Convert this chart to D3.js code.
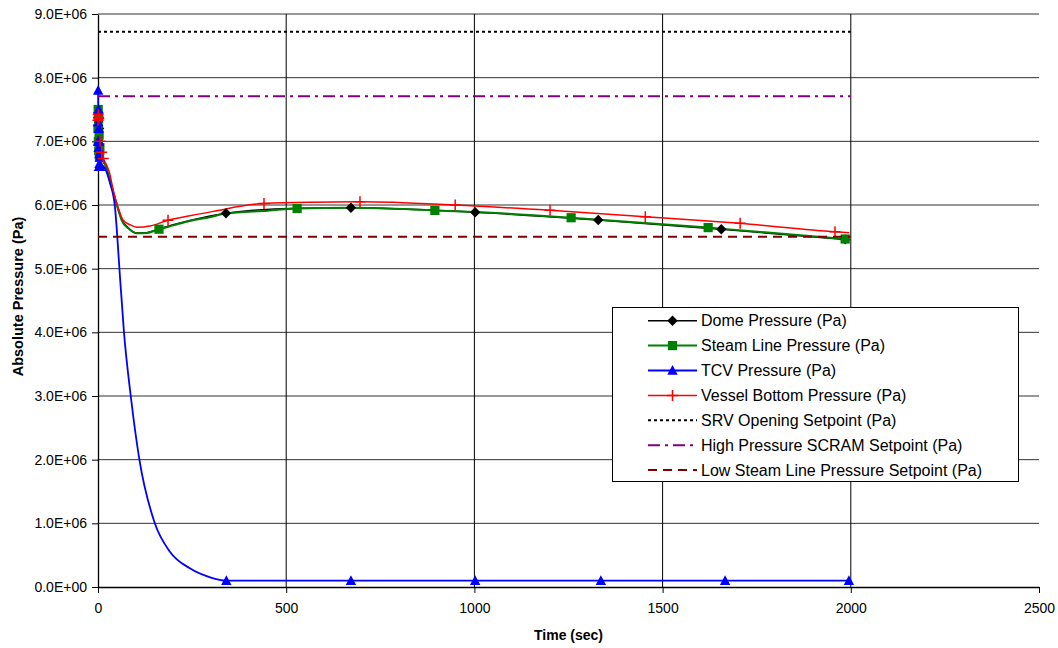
<!DOCTYPE html>
<html><head><meta charset="utf-8">
<script src="https://cdn.jsdelivr.net/npm/d3@7"></script>
<style>
html,body{margin:0;padding:0;background:#fff;}
svg{display:block;font-family:"Liberation Sans",Arial,sans-serif;}
</style></head>
<body>
<svg id="chart" width="1058" height="648"></svg>
<script>
// ---------------- DATA ----------------
const timeTicks = [0, 500, 1000, 1500, 2000, 2500];
const pressureTicks = [0, 1e6, 2e6, 3e6, 4e6, 5e6, 6e6, 7e6, 8e6, 9e6];

// Dome Pressure (Pa)
const domeTime  = [0, 1, 2, 3, 4, 8, 12, 19, 30, 45, 63, 81, 103, 129, 162, 244, 340, 529, 672, 1002, 1329, 1656, 1985];
const domePress = [7.25e6, 7.45e6, 6.95e6, 7.2e6, 6.8e6, 6.72e6, 6.7e6, 6.64e6, 6.43e6, 6.11e6, 5.77e6, 5.64e6, 5.56e6, 5.565e6, 5.625e6, 5.755e6, 5.87e6, 5.95e6, 5.957e6, 5.885e6, 5.764e6, 5.618e6, 5.46e6];
const domeMarkTime  = [0, 1, 2, 3, 4, 340, 672, 1002, 1329, 1656, 1985];
const domeMarkPress = [7.25e6, 7.45e6, 6.95e6, 7.2e6, 6.8e6, 5.87e6, 5.957e6, 5.885e6, 5.764e6, 5.618e6, 5.46e6];

// Steam Line Pressure (Pa)
const steamTime  = [0, 0.5, 1, 1.5, 2, 3, 4, 5, 8, 12, 19, 30, 45, 54, 63, 81, 103, 129, 162, 200, 244, 291, 340, 451, 529, 672, 895, 1002, 1257, 1332, 1621, 1662, 1985];
const steamPress = [7.2e6, 7.5e6, 7.0e6, 7.35e6, 6.85e6, 7.1e6, 6.75e6, 6.9e6, 6.72e6, 6.7e6, 6.63e6, 6.42e6, 6.10e6, 5.92e6, 5.76e6, 5.63e6, 5.555e6, 5.56e6, 5.62e6, 5.68e6, 5.75e6, 5.80e6, 5.865e6, 5.91e6, 5.945e6, 5.955e6, 5.915e6, 5.89e6, 5.80e6, 5.77e6, 5.645e6, 5.625e6, 5.466e6];
const steamMarkTime  = [0, 0.5, 1, 1.5, 2, 3, 4, 5, 162, 529, 895, 1257, 1621, 1985];
const steamMarkPress = [7.2e6, 7.5e6, 7.0e6, 7.35e6, 6.85e6, 7.1e6, 6.75e6, 6.9e6, 5.62e6, 5.945e6, 5.915e6, 5.80e6, 5.645e6, 5.466e6];

// TCV Pressure (Pa)
const tcvTime  = [0, 0.4, 0.8, 1.2, 1.6, 2.0, 2.5, 3, 3.5, 4, 5, 6, 12, 19, 32, 45, 50, 57, 69, 87, 110, 151, 191, 244, 298, 341, 672, 1002, 1336, 1666, 1995];
const tcvPress = [7.0e6, 7.8e6, 7.3e6, 7.5e6, 6.9e6, 7.2e6, 6.6e6, 7.0e6, 6.8e6, 6.65e6, 6.75e6, 6.6e6, 6.62e6, 6.57e6, 6.34e6, 5.97e6, 5.61e6, 4.99e6, 4.0e6, 3.0e6, 2.0e6, 1.0e6, 0.555e6, 0.294e6, 0.152e6, 0.10e6, 0.10e6, 0.10e6, 0.10e6, 0.10e6, 0.10e6];
const tcvMarkTime  = [0, 0.4, 0.8, 1.2, 1.6, 2.0, 2.5, 3, 3.5, 4, 5, 6, 341, 672, 1002, 1336, 1666, 1995];
const tcvMarkPress = [7.0e6, 7.8e6, 7.3e6, 7.5e6, 6.9e6, 7.2e6, 6.6e6, 7.0e6, 6.8e6, 6.65e6, 6.75e6, 6.6e6, 0.10e6, 0.10e6, 0.10e6, 0.10e6, 0.10e6, 0.10e6];

// Vessel Bottom Pressure (Pa)
const vesselTime  = [0, 0.6, 1.2, 2, 5.5, 9.8, 14, 21, 30, 41, 50, 58, 67, 85, 103, 138, 186, 244, 306, 441, 560, 696, 949, 1201, 1454, 1706, 1958, 1996];
const vesselPress = [7.33e6, 7.42e6, 7.38e6, 7.36e6, 7.0e6, 6.83e6, 6.73e6, 6.65e6, 6.52e6, 6.22e6, 6.02e6, 5.88e6, 5.76e6, 5.69e6, 5.65e6, 5.67e6, 5.76e6, 5.83e6, 5.90e6, 6.025e6, 6.045e6, 6.05e6, 6.0e6, 5.917e6, 5.816e6, 5.712e6, 5.58e6, 5.565e6];
const vesselMarkTime  = [0, 0.6, 1.2, 2, 5.5, 9.8, 14, 186, 441, 696, 949, 1201, 1454, 1706, 1958];
const vesselMarkPress = [7.33e6, 7.42e6, 7.38e6, 7.36e6, 7.0e6, 6.83e6, 6.73e6, 5.76e6, 6.025e6, 6.05e6, 6.0e6, 5.917e6, 5.816e6, 5.712e6, 5.58e6];

// Setpoints (Pa) and their time span (sec)
const setpointTime = [0, 2000];
const srvSetpoint = 8.72e6;
const highScramSetpoint = 7.71e6;
const lowSteamSetpoint = 5.5e6;

const seriesNames = ["Dome Pressure (Pa)", "Steam Line Pressure (Pa)", "TCV Pressure (Pa)", "Vessel Bottom Pressure (Pa)",
  "SRV Opening Setpoint (Pa)", "High Pressure SCRAM Setpoint (Pa)", "Low Steam Line Pressure Setpoint (Pa)"];

// ---------------- CHART ----------------
const svg = d3.select("#chart");
const L = 98, R = 1039, T = 14, B = 587;
const x = d3.scaleLinear().domain([0, 2500]).range([L, R]);
const y = d3.scaleLinear().domain([0, 9e6]).range([B, T]);

const fmtP = v => v === 0 ? "0.0E+00" : (v / 1e6).toFixed(1) + "E+06";

// gridlines
svg.append("g").selectAll("line").data(pressureTicks.slice(1)).join("line")
  .attr("x1", L).attr("x2", R).attr("y1", d => y(d)).attr("y2", d => y(d))
  .attr("stroke", "#333").attr("stroke-width", 1);
svg.append("g").selectAll("line").data(timeTicks.filter(d => d > 0 && d < 2500)).join("line")
  .attr("x1", d => x(d)).attr("x2", d => x(d)).attr("y1", T).attr("y2", B)
  .attr("stroke", "#000").attr("stroke-width", 1);

// axes
const yAxis = svg.append("g").attr("transform", `translate(${L},0)`)
  .call(d3.axisLeft(y).tickValues(pressureTicks).tickFormat(fmtP).tickSize(6).tickSizeOuter(0).tickPadding(5));
const xAxis = svg.append("g").attr("transform", `translate(0,${B})`)
  .call(d3.axisBottom(x).tickValues(timeTicks).tickFormat(d3.format("d")).tickSize(6).tickSizeOuter(0).tickPadding(10));
[yAxis, xAxis].forEach(a => {
  a.selectAll("text").attr("font-size", 14).attr("fill", "#000").attr("font-family", "Liberation Sans, Arial, sans-serif");
  a.selectAll("line").attr("stroke", "#000");
  a.select(".domain").attr("stroke", "#000").attr("stroke-width", 1.3);
});

// axis titles
svg.append("text").attr("x", (L + R) / 2).attr("y", 639.5).attr("text-anchor", "middle")
  .attr("font-size", 14).attr("font-weight", "bold").text("Time (sec)");
svg.append("text").attr("transform", `translate(22.5,${(T + B) / 2 - 4}) rotate(-90)`).attr("text-anchor", "middle")
  .attr("font-size", 14.5).attr("font-weight", "bold").text("Absolute Pressure (Pa)");

// lines
const line = d3.line().x(d => x(d[0])).y(d => y(d[1])).curve(d3.curveMonotoneX);
const zip = (a, b) => a.map((t, i) => [t, b[i]]);
const series = [
  {t: domeTime, p: domePress, mt: domeMarkTime, mp: domeMarkPress, color: "#000000", w: 1.5, marker: "diamond"},
  {t: steamTime, p: steamPress, mt: steamMarkTime, mp: steamMarkPress, color: "#008000", w: 2, marker: "square"},
  {t: tcvTime, p: tcvPress, mt: tcvMarkTime, mp: tcvMarkPress, color: "#0000FF", w: 1.8, marker: "triangle"},
  {t: vesselTime, p: vesselPress, mt: vesselMarkTime, mp: vesselMarkPress, color: "#FF0000", w: 1.5, marker: "plus"}
];
series.forEach(s => {
  svg.append("path").datum(zip(s.t, s.p)).attr("d", line)
    .attr("fill", "none").attr("stroke", s.color).attr("stroke-width", s.w);
});

function drawMarker(g, type, cx, cy, color) {
  if (type === "diamond") {
    g.append("path").attr("d", `M${cx},${cy - 5.2}L${cx + 5.2},${cy}L${cx},${cy + 5.2}L${cx - 5.2},${cy}Z`).attr("fill", color);
  } else if (type === "square") {
    g.append("rect").attr("x", cx - 4.6).attr("y", cy - 4.6).attr("width", 9.2).attr("height", 9.2).attr("fill", color);
  } else if (type === "triangle") {
    g.append("path").attr("d", `M${cx},${cy - 5.5}L${cx + 5.2},${cy + 4.3}L${cx - 5.2},${cy + 4.3}Z`).attr("fill", color);
  } else if (type === "plus") {
    g.append("path").attr("d", `M${cx - 5.5},${cy}H${cx + 5.5}M${cx},${cy - 5.5}V${cy + 5.5}`).attr("stroke", color).attr("stroke-width", 1.5).attr("fill", "none");
  }
}
series.forEach(s => {
  const g = svg.append("g");
  s.mt.forEach((t, i) => drawMarker(g, s.marker, x(t), y(s.mp[i]), s.color));
});

// setpoint lines
const setpoints = [
  {v: srvSetpoint, color: "#000000", dash: "3,3"},
  {v: highScramSetpoint, color: "#800080", dash: "12,5,3,5"},
  {v: lowSteamSetpoint, color: "#800000", dash: "9,6"}
];
setpoints.forEach(sp => {
  svg.append("line").attr("x1", x(setpointTime[0])).attr("x2", x(setpointTime[1]))
    .attr("y1", y(sp.v)).attr("y2", y(sp.v))
    .attr("stroke", sp.color).attr("stroke-width", 2).attr("stroke-dasharray", sp.dash);
});

// legend
const lg = svg.append("g");
lg.append("rect").attr("x", 612.5).attr("y", 307.5).attr("width", 406).attr("height", 174)
  .attr("fill", "#fff").attr("stroke", "#000").attr("stroke-width", 1);
const legendItems = [
  {color: "#000000", marker: "diamond", dash: null, w: 1.5},
  {color: "#008000", marker: "square", dash: null, w: 2},
  {color: "#0000FF", marker: "triangle", dash: null, w: 1.8},
  {color: "#FF0000", marker: "plus", dash: null, w: 1.5},
  {color: "#000000", marker: null, dash: "3,3", w: 2},
  {color: "#800080", marker: null, dash: "12,5,3,5", w: 2},
  {color: "#800000", marker: null, dash: "9,6", w: 2}
];
legendItems.forEach((it, i) => {
  const cy = 320.7 + i * 24.9;
  const ln = lg.append("line").attr("x1", 648).attr("x2", 697).attr("y1", cy).attr("y2", cy)
    .attr("stroke", it.color).attr("stroke-width", it.w);
  if (it.dash) ln.attr("stroke-dasharray", it.dash);
  if (it.marker) drawMarker(lg, it.marker, 672.5, cy, it.color);
  lg.append("text").attr("x", 701).attr("y", cy).attr("dy", "0.36em")
    .attr("font-size", 16).attr("fill", "#000").text(seriesNames[i]);
});
</script>
</body></html>
